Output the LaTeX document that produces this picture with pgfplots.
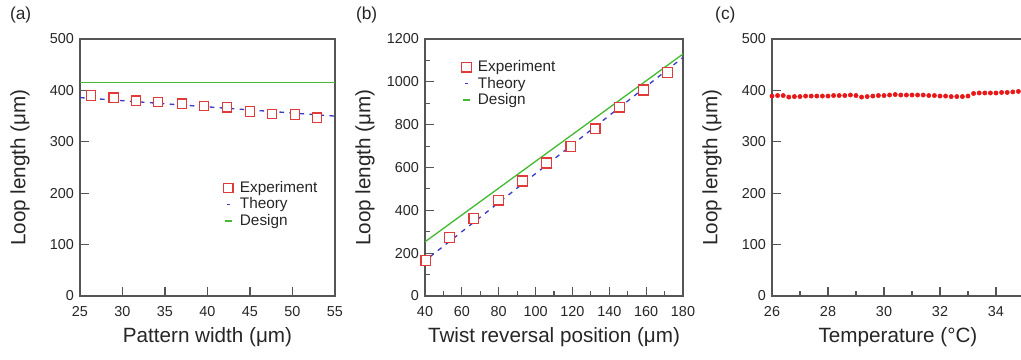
\documentclass[border=0pt]{standalone}
\usepackage{pgfplots}
\pgfplotsset{compat=1.18}
\usepackage{fontspec}
\setmainfont{Liberation Sans}
\definecolor{txt}{HTML}{262626}
\definecolor{frame}{HTML}{555555}
\definecolor{expred}{HTML}{E03A3A}
\definecolor{thblue}{HTML}{3C3CC8}
\definecolor{desgreen}{HTML}{44BB33}
\definecolor{dotred}{HTML}{E81818}

\pgfplotstableread{
x y
26.3 390
28.95 386
31.6 380
34.2 377
37.0 374
39.6 370
42.3 367
45.0 359
47.6 354
50.3 353
52.9 347
}\expA

\pgfplotstableread{
x y
40.5 165
53.2 272
66.5 363
79.8 448
92.8 537
106.0 621
119.2 697
132.3 780
145.5 882
158.6 962
171.6 1044
}\expB

\pgfplotstableread{
x y
26.0 389
26.2 390
26.4 390
26.6 387
26.8 388
27.0 388
27.2 389
27.4 389
27.6 389
27.8 389
28.0 389
28.2 390
28.4 390
28.6 390
28.8 391
29.0 390
29.2 387
29.4 388
29.6 389
29.8 390
30.0 390
30.2 391
30.4 392
30.6 391
30.8 391
31.0 391
31.2 391
31.4 391
31.6 390
31.8 390
32.0 389
32.2 389
32.4 388
32.6 388
32.8 388
33.0 389
33.2 394
33.4 395
33.6 395
33.8 395
34.0 395
34.2 396
34.4 396
34.6 397
34.8 398
}\tempC

\pgfplotsset{
  every axis/.append style={
    scale only axis,
    axis line style={frame, line width=0.8pt},
    tick style={frame, line width=0.8pt},
    tick align=inside,
    xtick pos=bottom, ytick pos=left,
    major tick length=7pt,
    minor tick length=4pt,
    ticklabel style={font=\fontsize{10.8}{12}\selectfont, text=txt},
    xticklabel style={yshift=-4.5pt},
    yticklabel style={xshift=-1pt},
    label style={font=\fontsize{15.5}{18}\selectfont, text=txt},
    /pgf/number format/assume math mode=true,
    /pgf/number format/1000 sep={},
    xlabel style={at={([yshift=-31pt]axis description cs:0.5,0)}, anchor=center},
    ylabel style={at={([xshift=-45pt]axis description cs:0,0.5)}, anchor=center, rotate=0},
    legend style={draw=none, fill=none, font=\fontsize{11.5}{13.5}\selectfont, text=txt,
      row sep=-0.5pt, nodes={inner sep=1.5pt}},
    legend cell align=left,
    clip=false,
  },
  expstyle/.style={only marks, mark=square*, mark size=3.5pt, color=expred,
     mark options={line width=0.9pt, draw=expred, fill=white}},
  thstyle/.style={thblue, line width=1pt, dash pattern=on 3.5pt off 4pt},
  desstyle/.style={desgreen, line width=1pt},
}

\begin{document}
\begin{tikzpicture}
\useasboundingbox (0,0) rectangle (765.75pt,-270pt);

% panel labels
\node[text=txt, font=\fontsize{13}{15}\selectfont] at (15.5pt,-11pt) {(a)};
\node[text=txt, font=\fontsize{13}{15}\selectfont] at (275pt,-11pt) {(b)};
\node[text=txt, font=\fontsize{13}{15}\selectfont] at (544pt,-11pt) {(c)};

% (a)
\begin{axis}[at={(60pt,-222pt)}, anchor=south west,
  width=191.25pt, height=192.75pt,
  xmin=25, xmax=55, ymin=0, ymax=500,
  xtick={25,30,...,55}, ytick={0,100,...,500},
  xlabel={Pattern width (μm)}, ylabel={Loop length (μm)},
  legend style={at={(axis description cs:0.543,0.465)}, anchor=north west},
]
\addlegendimage{legend image code/.code={\path[draw=none,fill=none] (0,0) -- (0.4cm,0); \draw[expred, line width=0.9pt, fill=white] (0.15cm,0) ++(-3.5pt,-3.5pt) rectangle ++(7pt,7pt);}}
\addlegendentry{Experiment}
\addlegendimage{legend image code/.code={\path[draw=none,fill=none] (0,0) -- (0.4cm,0); \draw[thblue, line width=1pt] (0.1cm,0) -- (0.2cm,0);}}
\addlegendentry{Theory}
\addlegendimage{legend image code/.code={\path[draw=none,fill=none] (0,0) -- (0.4cm,0); \draw[desgreen, line width=1pt] (0.05cm,0) -- (0.25cm,0);}}
\addlegendentry{Design}
\addplot[thstyle, forget plot] coordinates {(25,386) (55,350)};
\addplot[desstyle, forget plot] coordinates {(25,416) (55,416)};
\addplot[expstyle, forget plot] table[x=x,y=y]{\expA};
\end{axis}

% (b)
\begin{axis}[at={(318.75pt,-222pt)}, anchor=south west,
  width=193.5pt, height=192.75pt,
  xmin=40, xmax=180, ymin=0, ymax=1200,
  xtick={40,60,...,180}, ytick={0,200,...,1200},
  minor x tick num=1, minor y tick num=1,
  xlabel={Twist reversal position (μm)}, ylabel={Loop length (μm)},
  legend style={at={(axis description cs:0.122,0.935)}, anchor=north west},
]
\addlegendimage{legend image code/.code={\path[draw=none,fill=none] (0,0) -- (0.4cm,0); \draw[expred, line width=0.9pt, fill=white] (0.15cm,0) ++(-3.6pt,-3.6pt) rectangle ++(7.2pt,7.2pt);}}
\addlegendentry{Experiment}
\addlegendimage{legend image code/.code={\path[draw=none,fill=none] (0,0) -- (0.4cm,0); \draw[thblue, line width=1pt] (0.1cm,0) -- (0.2cm,0);}}
\addlegendentry{Theory}
\addlegendimage{legend image code/.code={\path[draw=none,fill=none] (0,0) -- (0.4cm,0); \draw[desgreen, line width=1pt] (0.05cm,0) -- (0.25cm,0);}}
\addlegendentry{Design}
\addplot[thstyle, forget plot] coordinates {(42.7,183) (180,1114)};
\addplot[desstyle, forget plot] coordinates {(40,253) (180,1130)};
\addplot[expstyle, mark size=3.7pt, forget plot] table[x=x,y=y]{\expB};
\end{axis}

% (c)
\begin{axis}[at={(579pt,-222pt)}, anchor=south west,
  width=189pt, height=192.75pt,
  xmin=26, xmax=35, ymin=0, ymax=500,
  xtick={26,28,...,34}, ytick={0,100,...,500},
  minor xtick={27,29,...,35},
  xlabel={Temperature (°C)}, ylabel={Loop length (μm)},
]
\addplot[only marks, mark=*, mark size=1.6pt, color=dotred] table[x=x,y=y]{\tempC};
\end{axis}
\end{tikzpicture}
\end{document}
